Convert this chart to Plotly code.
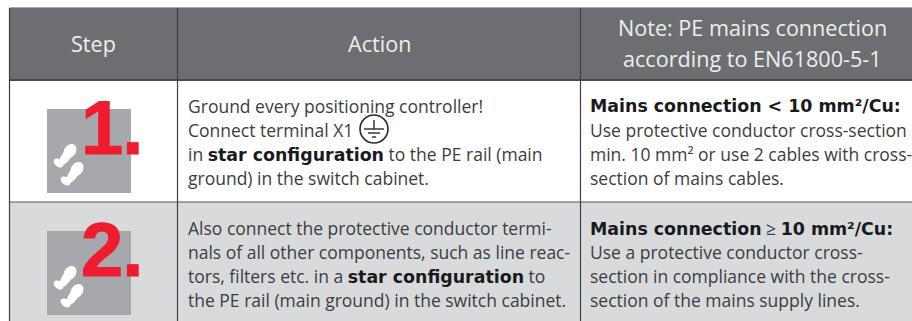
import math
import plotly.graph_objects as go

W, H = 912, 321
col_edges = [9.5, 177.5, 580.5, 912]
row_edges = [8, 80, 202, 322]
headers = [["Step"], ["Action"], ["Note: PE mains connection", "according to EN61800-5-1"]]
header_centres = [93.5, 379, 752]
steps = ["1.", "2."]
B = '<span style="font-family:\'DejaVu Sans\';font-weight:700;font-size:17.4px;fill:#1a1a1c">%s</span>'
action_lines = [
    ["Ground every positioning controller!", "Connect terminal X1",
     "in " + B % "star configuration" + " to the PE rail (main", "ground) in the switch cabinet."],
    ["Also connect the protective conductor termi-", "nals of all other components, such as line reac-",
     "tors, filters etc. in a " + B % "star configuration" + " to", "the PE rail (main ground) in the switch cabinet."],
]
note_lines = [
    [B % "Mains connection &lt; 10 mm²/Cu:", "Use protective conductor cross-section",
     "min. 10 mm² or use 2 cables with cross-", "section of mains cables."],
    [B % "Mains connection" + " ≥ " + B % "10 mm²/Cu:", "Use a protective conductor cross-",
     "section in compliance with the cross-", "section of the mains supply lines."],
]

FONT = "Open Sans"
TXT = "#3c3d40"
shapes, ann = [], []


def rect(x0, y0, x1, y1, fill):
    shapes.append(dict(type="rect", x0=x0, y0=y0, x1=x1, y1=y1, fillcolor=fill, line_width=0, layer="below"))


def seg(x0, y0, x1, y1, color="#4a4b4e", w=1.2):
    shapes.append(dict(type="line", x0=x0, y0=y0, x1=x1, y1=y1, line=dict(color=color, width=w)))


def ell(cx, cy, rx, ry, deg, fill="#ffffff"):
    t = math.radians(deg)
    pts = []
    for i in range(36):
        a = 2 * math.pi * i / 36
        x, y = rx * math.cos(a), ry * math.sin(a)
        pts.append((cx + x * math.cos(t) - y * math.sin(t), cy + x * math.sin(t) + y * math.cos(t)))
    path = "M" + "L".join(f"{x:.2f},{y:.2f}" for x, y in pts) + "Z"
    shapes.append(dict(type="path", path=path, fillcolor=fill, line_width=0))


def text(x, y, s, size, color=TXT, anchor="left", fam=FONT):
    ann.append(dict(x=x, y=y, text=s, showarrow=False, xanchor=anchor, yanchor="middle", align=anchor,
                    font=dict(family=fam, size=size, color=color), xref="x", yref="y"))


# backgrounds
rect(col_edges[0], row_edges[0], W, row_edges[1], "#6d6e71")
rect(col_edges[0], row_edges[2], W, row_edges[3], "#d9dadc")

# grid
seg(col_edges[0], row_edges[0] - .5, W, row_edges[0] - .5, "#a8a9ab", 1)
seg(col_edges[0], row_edges[1], W, row_edges[1], "#48494c", 2)
seg(col_edges[0], row_edges[2], W, row_edges[2], "#55565a", 1.2)
for c in col_edges[:3]:
    seg(c, row_edges[0], c, H, "#3f4043", 1.2)

# header
for h, cx in zip(headers, header_centres):
    ys = [43] if len(h) == 1 else [27.5, 58]
    for line, y in zip(h, ys):
        text(cx, y, line, 21.6, "#eeeeef", "center")

# steps
for i, s in enumerate(steps):
    top = row_edges[i + 1] + 29
    rect(47, top, 131, top + 84, "#a7a8ab")
    for (fx, fy) in [(0, 0), (7, 18)]:
        ell(66.5 + fx, top + 47 + fy, 4.5, 11, 35)
        ell(70 + fx, top + 42 + fy, 5.8, 7.5, 35)
        ell(58.5 + fx, top + 54 + fy, 5.5, 3.6, 40)
    lab = f'<span style="letter-spacing:-1px;stroke:#ee1c2e;stroke-width:1px">{s}</span>'
    ann.append(dict(x=79, y=top + 18, text=f"<b>{lab}</b>", showarrow=False, xanchor="left", yanchor="middle",
                    font=dict(family="Liberation Sans", size=76, color="#ee1c2e"), xref="x", yref="y"))

# body text
line_y = [[106, 130, 154, 178], [228, 252, 276, 300]]
for r in range(2):
    for j in range(4):
        text(185.5, line_y[r][j], action_lines[r][j], 17.5)
        text(588, line_y[r][j], note_lines[r][j], 17.5)

# ground symbol
gx, gy = 374, 129
sym = "#2a2a2c"
shapes.append(dict(type="circle", x0=gx - 14, y0=gy - 14, x1=gx + 14, y1=gy + 14, line=dict(color=sym, width=1.6)))
seg(gx, gy - 9, gx, gy, sym, 1.4)
seg(gx - 10, gy, gx + 10, gy, sym, 1.4)
seg(gx - 6, gy + 4, gx + 6, gy + 4, sym, 1.4)
seg(gx - 2, gy + 8, gx + 2, gy + 8, sym, 1.4)

fig = go.Figure()
fig.update_layout(
    width=W, height=H, margin=dict(l=0, r=0, t=0, b=0),
    paper_bgcolor="#ffffff", plot_bgcolor="#ffffff", showlegend=False,
    xaxis=dict(range=[0, W], visible=False, fixedrange=True),
    yaxis=dict(range=[H, 0], visible=False, fixedrange=True),
    shapes=shapes, annotations=ann,
)
fig.write_html("out.html", config=dict(displayModeBar=False),
               post_script="document.body.style.margin='0';document.body.style.overflow='hidden';")
